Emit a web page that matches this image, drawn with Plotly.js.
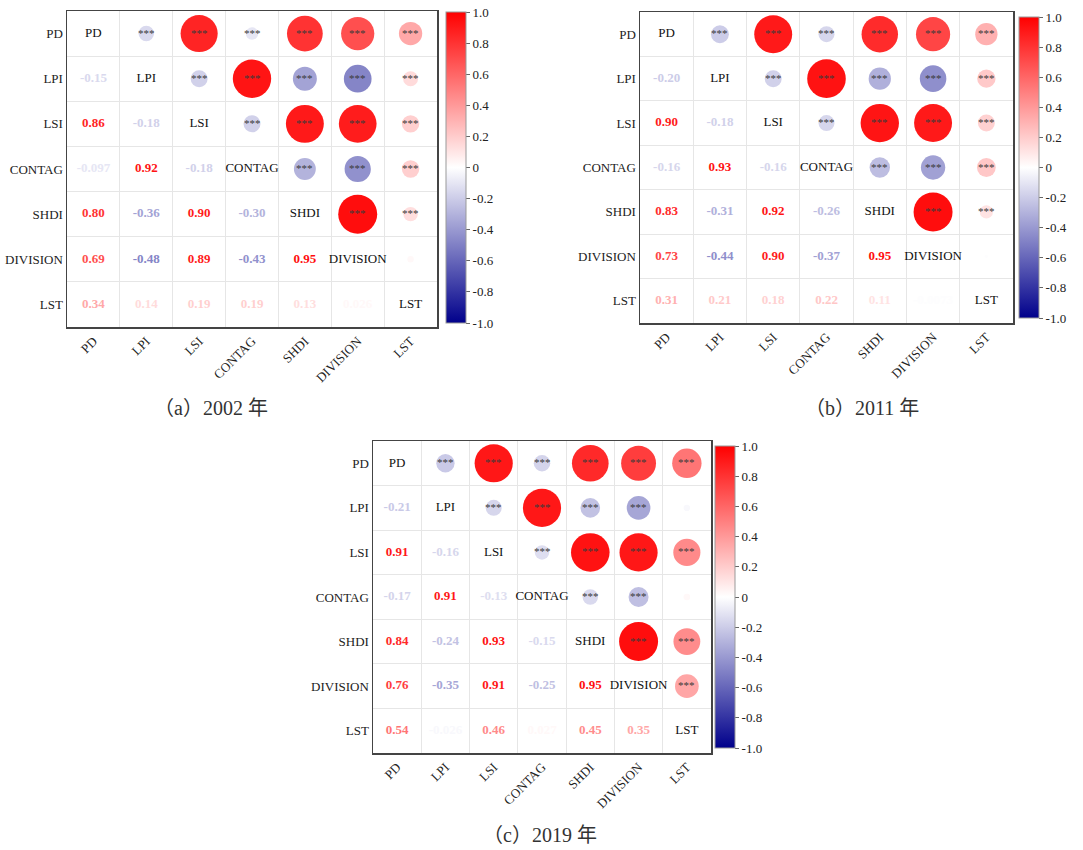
<!DOCTYPE html>
<html>
<head>
<meta charset="utf-8">
<script src="https://cdn.plot.ly/plotly-3.0.1.min.js"></script>
<style>html,body{margin:0;padding:0;background:#fff;}#chart{width:1083px;height:850px;}</style>
</head>
<body>
<div id="chart"></div>
<script>
// ---------- DATA ----------
const variables = ['PD','LPI','LSI','CONTAG','SHDI','DIVISION','LST'];

// lower-triangle correlation coefficients (row i, columns 0..i-1)
const corr2002 = [
  [],
  [-0.15],
  [0.86, -0.18],
  [-0.097, 0.92, -0.18],
  [0.80, -0.36, 0.90, -0.30],
  [0.69, -0.48, 0.89, -0.43, 0.95],
  [0.34, 0.14, 0.19, 0.19, 0.13, 0.026]
];
const corr2011 = [
  [],
  [-0.20],
  [0.90, -0.18],
  [-0.16, 0.93, -0.16],
  [0.83, -0.31, 0.92, -0.26],
  [0.73, -0.44, 0.90, -0.37, 0.95],
  [0.31, 0.21, 0.18, 0.22, 0.11, -0.0073]
];
const corr2019 = [
  [],
  [-0.21],
  [0.91, -0.16],
  [-0.17, 0.91, -0.13],
  [0.84, -0.24, 0.93, -0.15],
  [0.76, -0.35, 0.91, -0.25, 0.95],
  [0.54, -0.026, 0.46, 0.027, 0.45, 0.35]
];
// significance (1 = *** shown), same lower-triangle layout
const sig2002 = [[],[1],[1,1],[1,1,1],[1,1,1,1],[1,1,1,1,1],[1,1,1,1,1,0]];
const sig2011 = [[],[1],[1,1],[1,1,1],[1,1,1,1],[1,1,1,1,1],[1,1,1,1,1,0]];
const sig2019 = [[],[1],[1,1],[1,1,1],[1,1,1,1],[1,1,1,1,1],[1,0,1,0,1,1]];

const captions = ['（a）2002 年','（b）2011 年','（c）2019 年'];
const cbTickVals = [-1,-0.8,-0.6,-0.4,-0.2,0,0.2,0.4,0.6,0.8,1];
const cbTickText = ['-1.0','-0.8','-0.6','-0.4','-0.2','0','0.2','0.4','0.6','0.8','1.0'];

// ---------- STYLE ----------
const W = 1083, H = 850;
const SERIF = '"Liberation Serif", "Times New Roman", serif';
const colorscale = [[0,'#00008B'],[0.5,'#FFFFFF'],[1,'#FF0000']];
const maxDiam = 40;

// panel geometry in page pixels
const panels = [
  {data: corr2002, sig: sig2002, box:[67,11,437,327],   cb:[446,12,311], cap:[211,408]},
  {data: corr2011, sig: sig2011, box:[640,12,1013,323], cb:[1019,17,301], cap:[862,408]},
  {data: corr2019, sig: sig2019, box:[373,441,711,753], cb:[715,446,302], cap:[540,835]}
];

function hex2rgb(h){return [parseInt(h.substr(1,2),16),parseInt(h.substr(3,2),16),parseInt(h.substr(5,2),16)];}
function colorFor(v){
  const t = (v+1)/2;
  for (let k=0;k<colorscale.length-1;k++){
    const [t0,c0]=colorscale[k],[t1,c1]=colorscale[k+1];
    if (t>=t0 && t<=t1){
      const f=(t-t0)/(t1-t0), a=hex2rgb(c0), b=hex2rgb(c1);
      return 'rgb('+a.map((x,i)=>Math.round(x+(b[i]-x)*f)).join(',')+')';
    }
  }
  return colorscale[colorscale.length-1][1];
}
function fmt(v){ return Number(v).toPrecision(2); }

const traces = [];
const layout = {
  width: W, height: H, margin:{l:0,r:0,t:0,b:0},
  paper_bgcolor:'#fff', plot_bgcolor:'#fff',
  showlegend:false, annotations:[], font:{family:SERIF, color:'#222'}
};
const n = variables.length;
const idx = variables.map((_,i)=>i);
const minor = idx.slice(0,n-1).map(i=>i+0.5);

panels.forEach((p,k)=>{
  const sfx = k===0 ? '' : String(k+1);
  const xa = 'x'+sfx, ya = 'y'+sfx;
  const [x0,y0,x1,y1] = p.box;
  layout['xaxis'+sfx] = {
    domain:[x0/W, x1/W], anchor:ya, range:[-0.5,n-0.5],
    tickvals: idx, ticktext: variables, tickangle:-45,
    tickfont:{family:SERIF,size:13,color:'#222'},
    showgrid:false, zeroline:false, ticks:'',
    showline:true, mirror:true, linecolor:'#444', linewidth:1.5,
    minor:{tickvals:minor, showgrid:true, gridcolor:'#e6e6e6', gridwidth:1, ticks:''},
    fixedrange:true
  };
  layout['yaxis'+sfx] = {
    domain:[1-y1/H, 1-y0/H], anchor:xa, range:[n-0.5,-0.5],
    tickvals: idx, ticktext: variables,
    tickfont:{family:SERIF,size:13,color:'#222'},
    showgrid:false, zeroline:false, ticks:'',
    showline:true, mirror:true, linecolor:'#444', linewidth:1.5,
    minor:{tickvals:minor, showgrid:true, gridcolor:'#e6e6e6', gridwidth:1, ticks:''},
    fixedrange:true
  };

  // circles in upper triangle
  const cx=[], cy=[], cv=[], cs=[];
  for (let i=1;i<n;i++) for (let j=0;j<i;j++){
    const v = p.data[i][j];
    cx.push(i); cy.push(j); cv.push(v); cs.push(maxDiam*Math.sqrt(Math.abs(v)));
    if (p.sig[i][j]) {
      layout.annotations.push({
        xref:xa, yref:ya, x:i, y:j, text:'***', showarrow:false,
        xanchor:'center', yanchor:'middle', yshift:1,
        font:{family:SERIF, size:11, color:'#3a3a3a'}
      });
    }
  }
  traces.push({
    type:'scatter', mode:'markers', x:cx, y:cy, xaxis:xa, yaxis:ya, hoverinfo:'skip',
    marker:{
      size:cs, color:cv, colorscale:colorscale, cmin:-1, cmax:1, line:{width:0}, opacity:1,
      showscale:true,
      colorbar:{
        x:p.cb[0]/W, xanchor:'left', y:1-(p.cb[1]+p.cb[2]/2)/H, yanchor:'middle',
        len:p.cb[2], lenmode:'pixels', thickness:20, thicknessmode:'pixels',
        xpad:0, ypad:0, outlinewidth:1, outlinecolor:'#999', bgcolor:'rgba(0,0,0,0)',
        tickvals:cbTickVals, ticktext:cbTickText, ticks:'outside', ticklen:4, tickcolor:'#666',
        tickfont:{family:SERIF,size:13,color:'#222'}
      }
    }
  });
  // lower triangle values + diagonal names
  const tx=[], ty=[], tt=[], tc=[];
  for (let i=0;i<n;i++){
    tx.push(i); ty.push(i); tt.push(variables[i]); tc.push('#111');
    for (let j=0;j<i;j++){
      const v = p.data[i][j];
      tx.push(j); ty.push(i); tt.push('<b>'+fmt(v)+'</b>'); tc.push(colorFor(v));
    }
  }
  traces.push({
    type:'scatter', mode:'text', x:tx, y:ty, xaxis:xa, yaxis:ya, hoverinfo:'skip',
    text:tt, textposition:'middle center',
    textfont:{family:SERIF, size:13, color:tc}
  });

  layout.annotations.push({
    xref:'paper', yref:'paper', x:p.cap[0]/W, y:1-p.cap[1]/H, xanchor:'center', yanchor:'middle',
    text:captions[k], showarrow:false,
    font:{family:'"Liberation Serif", "Noto Sans CJK SC", serif', size:20, color:'#333'}
  });
});

Plotly.newPlot('chart', traces, layout, {displayModeBar:false, staticPlot:true});
</script>
</body>
</html>
